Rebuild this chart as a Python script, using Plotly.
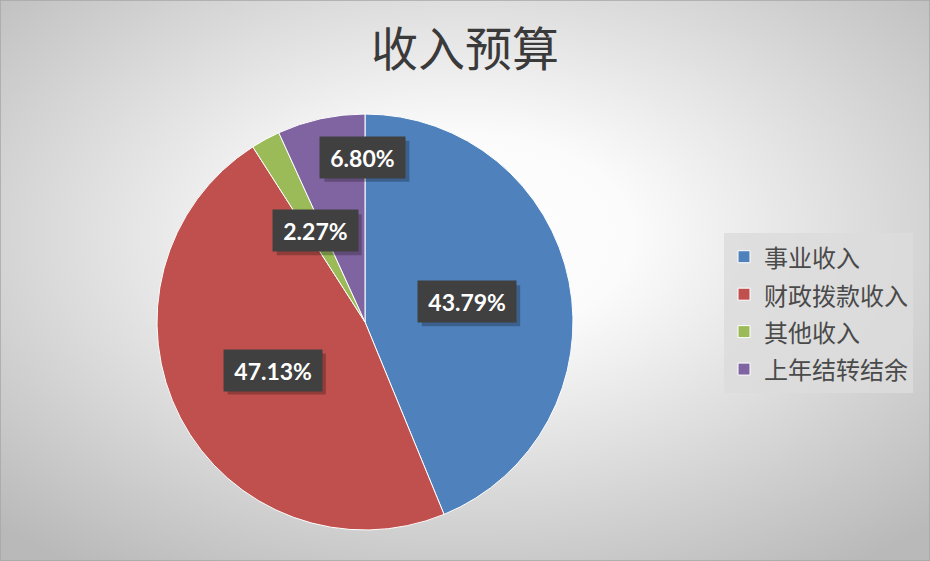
import base64
import math

import plotly.graph_objects as go

# ---------------------------------------------------------------- #
# Data
categories = ["事业收入", "财政拨款收入", "其他收入", "上年结转结余"]
shares = [43.79, 47.13, 2.27, 6.80]
colors = ["#4F81BD", "#C0504D", "#9BBB59", "#8064A2"]
title_text = "收入预算"

# ---------------------------------------------------------------- #
# Geometry (pixels) of the figure and pie
W, H = 930, 561
cx, cy, rad = 365, 322, 208

# label placement: fraction of radius + manual nudge (px) per slice
label_frac = [0.5, 0.5, 0.5, 0.5]
label_nudge = [(0, 0), (0, 0), (0, 0), (20, -63)]
label_size = 23
label_pad = 6

# ---------------------------------------------------------------- #
# Radial gradient background as svg data uri
svg = (
    '<svg xmlns="http://www.w3.org/2000/svg" width="930" height="561">'
    '<defs><radialGradient id="g" cx="50%" cy="42%" r="72%">'
    '<stop offset="0" stop-color="#ffffff"/>'
    '<stop offset="0.25" stop-color="#fbfbfb"/>'
    '<stop offset="1" stop-color="#b9b9b9"/>'
    '</radialGradient></defs>'
    '<rect width="930" height="561" fill="url(#g)"/></svg>'
)
bg_uri = "data:image/svg+xml;base64," + base64.b64encode(svg.encode()).decode()


def text_width(s, size):
    # rough width of bold Lato text
    w = 0
    for ch in s:
        w += 0.9 if ch == "%" else (0.27 if ch == "." else 0.58)
    return w * size


fig = go.Figure()

legend_labels = ['<span style="font-size:24px">%s</span>' % c for c in categories]

fig.add_trace(go.Pie(
    labels=legend_labels, values=shares, sort=False, direction="clockwise",
    rotation=0, marker=dict(colors=colors, line=dict(color="white", width=1)),
    textinfo="none", hoverinfo="percent",
    domain=dict(x=[(cx - rad) / W, (cx + rad) / W],
                y=[(H - cy - rad) / H, (H - cy + rad) / H]),
))

# ---------------------------------------------------------------- #
# Data labels with dark boxes, positioned from the slice mid-angles
shapes = []
total = sum(shares)
cum = 0
for i, v in enumerate(shares):
    mid = (cum + v / 2) / total * 2 * math.pi
    cum += v
    px_ = cx + rad * label_frac[i] * math.sin(mid) + label_nudge[i][0]
    py_ = cy - rad * label_frac[i] * math.cos(mid) + label_nudge[i][1]
    txt = "%.2f%%" % v
    bw = text_width(txt, label_size) + 2 * label_pad + 6
    bh = 41
    # drop shadow
    shapes.append(dict(
        type="rect", xref="paper", yref="paper", layer="above",
        x0=(px_ - bw / 2 + 4) / W, x1=(px_ + bw / 2 + 4) / W,
        y0=1 - (py_ + bh / 2 + 4) / H, y1=1 - (py_ - bh / 2 + 4) / H,
        fillcolor="rgba(0,0,0,0.25)", line=dict(width=0),
    ))
    fig.add_annotation(
        x=px_ / W, y=1 - py_ / H, xref="paper", yref="paper",
        xanchor="center", yanchor="middle",
        text="<b>%s</b>" % txt, showarrow=False, bgcolor="#404040",
        borderpad=label_pad, width=bw - 2 * label_pad, height=bh - 2 * label_pad,
        font=dict(family="Lato", size=label_size, color="white"),
    )

shapes.append(dict(type="rect", xref="paper", yref="paper", x0=0, y0=0, x1=1, y1=1,
                   line=dict(color="#a6a6a6", width=1.5)))

fig.update_layout(
    width=W, height=H,
    margin=dict(l=0, r=0, t=0, b=0),
    paper_bgcolor="white",
    title=dict(text=title_text, x=0.5, xanchor="center", y=1 - 50 / H, yanchor="middle",
               font=dict(family="Noto Sans CJK SC", size=47, color="#3a3a3a")),
    legend=dict(x=724 / W, y=1 - 233 / H, xanchor="left", yanchor="top",
                bgcolor="rgba(220,220,220,0.85)",
                font=dict(family="Noto Sans CJK SC", size=26.5, color="#4a4a4a"),
                itemwidth=30),
    images=[dict(source=bg_uri, xref="paper", yref="paper", x=0, y=1,
                 sizex=1, sizey=1, sizing="stretch", layer="below")],
    shapes=shapes,
)

fig.write_html("out.html", config={"displayModeBar": False},
               post_script="document.body.style.margin='0';")
